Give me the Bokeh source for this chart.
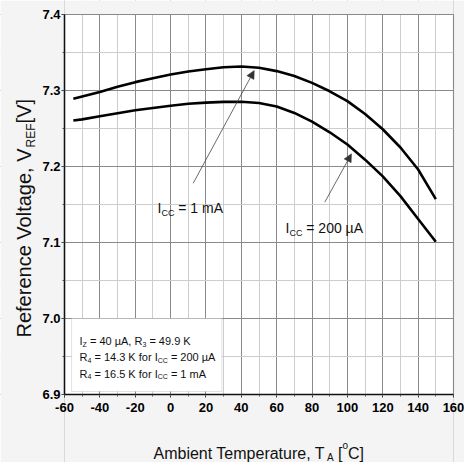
from bokeh.plotting import figure
from bokeh.models import (Range1d, SingleIntervalTicker, PrintfTickFormatter, Label,
                          Arrow, NormalHead, BoxAnnotation, LinearAxis, Grid)
from bokeh.embed import file_html
from bokeh.resources import INLINE

# ---------------- data ----------------
temps = [-55, -50, -40, -30, -20, -10, 0, 10, 20, 30, 40, 50, 60, 70, 80, 90, 100, 110, 120, 130, 140, 150]
vref_1mA = [7.289, 7.292, 7.298, 7.305, 7.311, 7.316, 7.321, 7.325, 7.328, 7.3305, 7.3315, 7.330,
            7.3255, 7.319, 7.310, 7.299, 7.286, 7.269, 7.249, 7.225, 7.196, 7.157]
vref_200uA = [7.2605, 7.262, 7.266, 7.270, 7.274, 7.277, 7.280, 7.2825, 7.284, 7.285, 7.2852, 7.2835,
              7.279, 7.2705, 7.259, 7.245, 7.229, 7.209, 7.187, 7.161, 7.131, 7.101]

x_start, x_end = -60, 160
y_start, y_end = 6.9, 7.4
x_tick_step = 20
y_tick_step = 0.1

# ---------------- layout (pixels) ----------------
FIG_W, FIG_H = 464, 462
M_LEFT, M_RIGHT, M_TOP, M_BOTTOM = 64, 11, 14, 68
FRAME_W = FIG_W - M_LEFT - M_RIGHT
FRAME_H = FIG_H - M_TOP - M_BOTTOM
KX = (x_end - x_start) / FRAME_W   # data units per pixel
KY = (y_end - y_start) / FRAME_H

FONT = "Liberation Sans"
BORDER = "#f4f4f4"
INK = "#111111"

xr = Range1d(x_start - M_LEFT * KX, x_end + M_RIGHT * KX)
yr = Range1d(y_start - M_BOTTOM * KY, y_end + M_TOP * KY)

p = figure(width=FIG_W, height=FIG_H, output_backend="svg", toolbar_location=None,
           x_range=xr, y_range=yr, x_axis_location=None, y_axis_location=None,
           min_border=0)
p.min_border_left = p.min_border_right = p.min_border_top = p.min_border_bottom = 0
p.border_fill_color = BORDER
p.background_fill_color = "#ffffff"
p.outline_line_color = None

xticker = SingleIntervalTicker(interval=x_tick_step, num_minor_ticks=2)
yticker = SingleIntervalTicker(interval=y_tick_step, num_minor_ticks=2)

# grids
for dim, tk, bnds in ((0, xticker, (x_start, x_end)), (1, yticker, (y_start, y_end))):
    g = Grid(dimension=dim, ticker=tk, bounds=bnds,
             grid_line_color="#8a8a8a", grid_line_width=1,
             minor_grid_line_color="#cdcdcd", minor_grid_line_width=1)
    p.add_layout(g)

# margin masks (keep grid lines inside the chart area)
p.quad(left=[xr.start, x_end, x_start, x_start], right=[x_start, xr.end, x_end, x_end],
       bottom=[yr.start, yr.start, yr.start, y_end], top=[yr.end, yr.end, y_start, yr.end],
       fill_color=BORDER, line_color=None)

# ---------------- curves ----------------
p.line(temps, vref_1mA, line_color="#000000", line_width=2.6)
p.line(temps, vref_200uA, line_color="#000000", line_width=2.6)

# ---------------- axes ----------------
xaxis = LinearAxis(ticker=xticker, fixed_location=y_start, bounds=(x_start, x_end),
                   formatter=PrintfTickFormatter(format="%d"))
yaxis = LinearAxis(ticker=yticker, fixed_location=x_start, bounds=(y_start, y_end),
                   formatter=PrintfTickFormatter(format="%.1f"))
for ax in (xaxis, yaxis):
    ax.axis_line_color = INK
    ax.axis_line_width = 1.5
    ax.major_tick_in = 0
    ax.major_tick_out = 3
    ax.minor_tick_in = 0
    ax.minor_tick_out = 2
    ax.major_tick_line_color = "#333333"
    ax.minor_tick_line_color = "#555555"
    ax.major_label_text_font = FONT
    ax.major_label_text_font_style = "bold"
    ax.major_label_text_font_size = "13px"
    ax.major_label_text_color = "#000000"
xaxis.major_label_standoff = 5
yaxis.major_label_standoff = 1
p.add_layout(xaxis, "below")
p.add_layout(yaxis, "left")

# chart border (top / right sides)
p.add_layout(BoxAnnotation(left=x_start, right=x_end, bottom=y_start, top=y_end,
                           fill_alpha=0, line_color=INK, line_width=1.2))

# ---------------- rich text helper ----------------
W = {' ': .278, '=': .584, '.': .278, ',': .278, 'A': .667, 'C': .722, 'E': .667, 'F': .611,
     'I': .278, 'K': .667, 'R': .722, 'T': .611, 'V': .667, 'Z': .611, 'a': .556, 'b': .556,
     'c': .5, 'e': .556, 'f': .278, 'g': .556, 'i': .222, 'l': .222, 'm': .833, 'n': .556,
     'o': .556, 'p': .556, 'r': .333, 't': .278, 'u': .556, 'µ': .577, '[': .278, ']': .278}


def text_w(s, size):
    return sum(W.get(ch, .556) for ch in s) * size


def rich(x, y, parts, size, small, drop, rise, angle=0.0):
    pos = 0.0
    for txt, kind in parts:
        fs = size if kind == "n" else small
        shift = 0.0 if kind == "n" else (drop if kind == "sub" else -rise)
        stripped = txt.lstrip(" ")
        pos += text_w(txt[:len(txt) - len(stripped)], fs)   # leading blanks (SVG collapses them)
        if angle == 0.0:
            lx, ly = x + pos * KX, y - shift * KY
        else:
            lx, ly = x + shift * KX, y + pos * KY
        p.add_layout(Label(x=lx, y=ly, text=stripped, text_font=FONT, text_font_size=f"{fs}px",
                           text_color=INK, text_align="left",
                           text_baseline="alphabetic", angle=angle))
        pos += text_w(stripped, fs)


# ---------------- condition box ----------------
p.add_layout(BoxAnnotation(left=-56, right=29, bottom=6.904, top=7.0,
                           fill_color="#ffffff", fill_alpha=1.0,
                           line_color="#9a9a9a", line_width=1))
box_lines = [
    [("I", "n"), ("Z", "sub"), (" = 40 µA, R", "n"), ("3", "sub"), (" = 49.9 K", "n")],
    [("R", "n"), ("4", "sub"), (" = 14.3 K for I", "n"), ("CC", "sub"), (" = 200 µA", "n")],
    [("R", "n"), ("4", "sub"), (" = 16.5 K for I", "n"), ("CC", "sub"), (" = 1 mA", "n")],
]
box_baselines = [6.970, 6.949, 6.927]
for parts, yb in zip(box_lines, box_baselines):
    rich(-51.5, yb, parts, 11, 7, 3, 0)

# ---------------- curve annotations ----------------
p.add_layout(Arrow(end=NormalHead(size=8, fill_color="#333333", line_color="#333333", line_width=0.5),
                   x_start=12.8, y_start=7.178, x_end=47.3, y_end=7.3263,
                   line_color="#444444", line_width=0.8))
p.add_layout(Arrow(end=NormalHead(size=8, fill_color="#333333", line_color="#333333", line_width=0.5),
                   x_start=87.2, y_start=7.153, x_end=102.3, y_end=7.2167,
                   line_color="#444444", line_width=0.8))
rich(-7.4, 7.146, [("I", "n"), ("CC", "sub"), (" = 1 mA", "n")], 14, 9, 5, 0)
rich(65.0, 7.1197, [("I", "n"), ("CC", "sub"), (" = 200 µA", "n")], 14, 9, 5, 0)

# ---------------- axis titles ----------------
rich(x_start + 89 * KX, y_end - 439 * KY,
     [("Ambient Temperature, T", "n"), ("A", "sub"), (" [", "n"), ("o", "sup"), ("C]", "n")],
     16, 10, 4, 8)
rich(x_start - 41 * KX, y_end - 323 * KY,
     [("Reference Voltage, V", "n"), ("REF", "sub"), ("[V]", "n")],
     20, 12, 7, 0, angle=1.5707963267948966)

open("out.html", "w").write(file_html(p, INLINE))
